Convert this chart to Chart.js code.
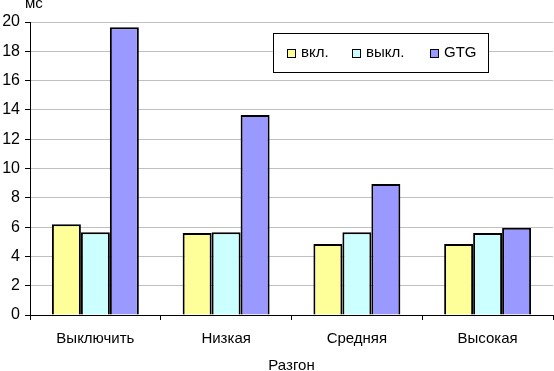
<!DOCTYPE html>
<html>
<head>
<meta charset="utf-8">
<script src="https://cdn.jsdelivr.net/npm/chart.js@4/dist/chart.umd.min.js"></script>
<style>
  html, body { margin: 0; padding: 0; background: #fff; }
  #wrap { width: 554px; height: 371px; position: relative; }
</style>
</head>
<body>
<div id="wrap"><canvas id="barChart"></canvas></div>
<script>
var categories = ["Выключить", "Низкая", "Средняя", "Высокая"];
var seriesNames = ["вкл.", "выкл.", "GTG"];
var onValues = [6.2, 5.6, 4.85, 4.85];
var offValues = [5.65, 5.65, 5.65, 5.6];
var gtgValues = [19.65, 13.65, 8.95, 5.95];
var yTicks = [0, 2, 4, 6, 8, 10, 12, 14, 16, 18, 20];

var colors = ["#FFFF99", "#CCFFFF", "#9999FF"];
var fontFamily = "'Liberation Sans', Arial, sans-serif";

Chart.defaults.font.family = fontFamily;
Chart.defaults.font.size = 15;
Chart.defaults.color = "#000";

// Excel-style legend box and the unit label above the axis
var extrasPlugin = {
    id: "extras",
    afterDraw: function(chart) {
        var ctx = chart.ctx;
        ctx.save();
        ctx.font = "15px " + fontFamily;
        ctx.fillStyle = "#000";
        ctx.textBaseline = "alphabetic";
        ctx.textAlign = "left";
        ctx.fillText("мс", 25, 8);

        ctx.fillStyle = "#fff";
        ctx.fillRect(273.5, 33.5, 215, 39);
        ctx.strokeStyle = "#000";
        ctx.lineWidth = 1;
        ctx.strokeRect(273.5, 33.5, 215, 39);

        var xs = [287, 352, 430];
        chart.data.datasets.forEach(function(ds, i) {
            ctx.fillStyle = ds.backgroundColor;
            ctx.fillRect(xs[i] + 0.5, 49.5, 8, 8);
            ctx.strokeStyle = "#000";
            ctx.strokeRect(xs[i] + 0.5, 49.5, 8, 8);
            ctx.fillStyle = "#000";
            ctx.textBaseline = "middle";
            ctx.fillText(ds.label, xs[i] + 14, 53);
        });
        ctx.restore();
    }
};

var barData = {
    labels: categories,
    datasets: [
        { label: seriesNames[0], data: onValues, backgroundColor: colors[0] },
        { label: seriesNames[1], data: offValues, backgroundColor: colors[1] },
        { label: seriesNames[2], data: gtgValues, backgroundColor: colors[2] }
    ].map(function(ds) {
        ds.borderColor = "#000";
        ds.borderWidth = 2;
        ds.barPercentage = 1;
        ds.categoryPercentage = 0.665;
        return ds;
    })
};

var barOptions = {
    responsive: false,
    animation: false,
    layout: { padding: { top: 22, right: 1, left: 0, bottom: 0 } },
    plugins: {
        legend: { display: false },
        tooltip: { enabled: false }
    },
    scales: {
        x: {
            grid: {
                offset: true,
                drawOnChartArea: false,
                tickLength: 5,
                tickColor: "#000"
            },
            border: { color: "#000", width: 1 },
            ticks: { padding: 10, maxRotation: 0 },
            title: {
                display: true,
                text: "Разгон",
                padding: { top: 0, bottom: -4 }
            },
            afterFit: function(scale) { scale.height = 56; }
        },
        y: {
            min: 0,
            max: 20,
            afterBuildTicks: function(scale) {
                scale.ticks = yTicks.map(function(v) { return { value: v }; });
            },
            grid: {
                color: "#C0C0C0",
                tickColor: "#000",
                tickLength: 5
            },
            border: { color: "#000", width: 1 },
            ticks: { padding: 5, font: { size: 16 } },
            afterFit: function(scale) { scale.width = 30; }
        }
    }
};

var canvas = document.getElementById("barChart");
canvas.width = 554;
canvas.height = 371;
new Chart(canvas.getContext("2d"), {
    type: "bar",
    data: barData,
    options: barOptions,
    plugins: [extrasPlugin]
});
</script>
</body>
</html>
